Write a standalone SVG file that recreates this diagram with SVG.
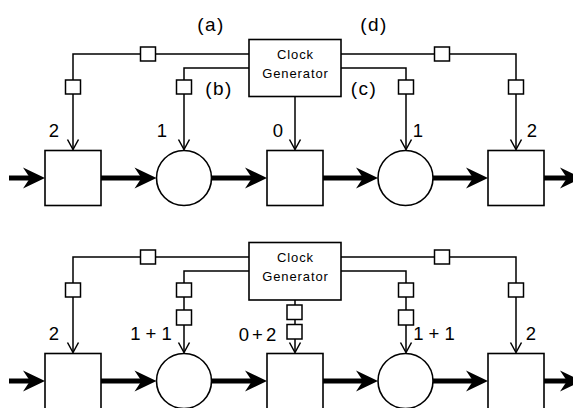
<svg xmlns="http://www.w3.org/2000/svg" width="573" height="408" viewBox="0 0 573 408">
<style>
.sh{fill:#fff;stroke:#000;stroke-width:1.6}
.ln{fill:none;stroke:#000;stroke-width:1.5}
.bx{fill:#fff;stroke:#000;stroke-width:1.5}
.th{fill:none;stroke:#000;stroke-width:5}
.lb{font-family:"Liberation Sans",Arial,sans-serif;font-size:19px;letter-spacing:1.5px;text-anchor:middle;fill:#000}
.nm{font-family:"Liberation Sans",Arial,sans-serif;font-size:18.5px;text-anchor:middle;fill:#000}
.cg{font-family:"Liberation Sans",Arial,sans-serif;font-size:13px;letter-spacing:0.9px;text-anchor:middle;fill:#000}
</style>
<defs>
<marker id="v" markerUnits="userSpaceOnUse" viewBox="-12 -7 14 14" refX="0" refY="0" markerWidth="14" markerHeight="14" orient="auto">
<path d="M-10,-5.5 L0,0 L-10,5.5" fill="none" stroke="#000" stroke-width="1.5"/>
</marker>
<path id="hd" d="M0,0 L-22,-10.5 L-15,0 L-22,10.5 Z" fill="#000"/>
</defs>

<!-- ========== TOP ROW ========== -->
<g id="connectors-top">
  <line class="th" x1="9" y1="178" x2="31" y2="178"/><use href="#hd" x="45" y="178"/>
  <line class="th" x1="101" y1="178" x2="142" y2="178"/><use href="#hd" x="156.5" y="178"/>
  <line class="th" x1="211.5" y1="178" x2="253" y2="178"/><use href="#hd" x="267" y="178"/>
  <line class="th" x1="323" y1="178" x2="364" y2="178"/><use href="#hd" x="378" y="178"/>
  <line class="th" x1="433" y1="178" x2="474" y2="178"/><use href="#hd" x="488" y="178"/>
  <line class="th" x1="544" y1="178" x2="567" y2="178"/><use href="#hd" x="582" y="178"/>
  <polyline class="ln" points="249,54 73,54 73,149.5" marker-end="url(#v)"/>
  <polyline class="ln" points="249,68 184,68 184,149.5" marker-end="url(#v)"/>
  <polyline class="ln" points="295,97 295,149.5" marker-end="url(#v)"/>
  <polyline class="ln" points="341,68 406,68 406,149.5" marker-end="url(#v)"/>
  <polyline class="ln" points="341,54 516,54 516,149.5" marker-end="url(#v)"/>
  <rect class="bx" x="140.5" y="47" width="15" height="14"/>
  <rect class="bx" x="65.5" y="80" width="15" height="14"/>
  <rect class="bx" x="176.5" y="80" width="15" height="14"/>
  <rect class="bx" x="398.5" y="80" width="15" height="14"/>
  <rect class="bx" x="434.5" y="47" width="15" height="14"/>
  <rect class="bx" x="508.5" y="80" width="15" height="14"/>
</g>
<g id="labels-top">
  <text class="lb" x="211" y="31">(a)</text>
  <text class="lb" x="219" y="95">(b)</text>
  <text class="lb" x="364" y="95">(c)</text>
  <text class="lb" x="374" y="31">(d)</text>
  <text class="nm" x="54" y="137">2</text>
  <text class="nm" x="162" y="137">1</text>
  <text class="nm" x="278" y="137">0</text>
  <text class="nm" x="418" y="137">1</text>
  <text class="nm" x="532" y="137">2</text>
</g>
<g id="clock-top">
  <rect class="sh" x="249" y="39.5" width="92" height="57"/>
  <text class="cg" x="295.5" y="59">Clock</text>
  <text class="cg" x="295.5" y="78">Generator</text>
</g>
<g id="t1-top"><rect class="sh" x="45" y="150.5" width="56" height="55"/></g>
<g id="p1-top"><circle class="sh" cx="184" cy="178" r="27.5"/></g>
<g id="t2-top"><rect class="sh" x="267" y="150.5" width="56" height="55"/></g>
<g id="p2-top"><circle class="sh" cx="405.5" cy="178" r="27.5"/></g>
<g id="t3-top"><rect class="sh" x="488" y="150.5" width="56" height="55"/></g>

<!-- ========== BOTTOM ROW ========== -->
<g id="connectors-bottom">
  <line class="th" x1="9" y1="381" x2="31" y2="381"/><use href="#hd" x="45" y="381"/>
  <line class="th" x1="101" y1="381" x2="142" y2="381"/><use href="#hd" x="156.5" y="381"/>
  <line class="th" x1="211.5" y1="381" x2="253" y2="381"/><use href="#hd" x="267" y="381"/>
  <line class="th" x1="323" y1="381" x2="364" y2="381"/><use href="#hd" x="378" y="381"/>
  <line class="th" x1="433" y1="381" x2="474" y2="381"/><use href="#hd" x="488" y="381"/>
  <line class="th" x1="544" y1="381" x2="567" y2="381"/><use href="#hd" x="582" y="381"/>
  <polyline class="ln" points="249,257 73,257 73,352.5" marker-end="url(#v)"/>
  <polyline class="ln" points="249,271 184,271 184,352.5" marker-end="url(#v)"/>
  <polyline class="ln" points="295,300 295,352.5" marker-end="url(#v)"/>
  <polyline class="ln" points="341,271 406,271 406,352.5" marker-end="url(#v)"/>
  <polyline class="ln" points="341,257 516,257 516,352.5" marker-end="url(#v)"/>
  <rect class="bx" x="140.5" y="250" width="15" height="14"/>
  <rect class="bx" x="65.5" y="283" width="15" height="14"/>
  <rect class="bx" x="176.5" y="283" width="15" height="14"/>
  <rect class="bx" x="176.5" y="310" width="15" height="15"/>
  <rect class="bx" x="287" y="305" width="15" height="14.5"/>
  <rect class="bx" x="287" y="324.5" width="15" height="14.5"/>
  <rect class="bx" x="398.5" y="283" width="15" height="14"/>
  <rect class="bx" x="398.5" y="310" width="15" height="15"/>
  <rect class="bx" x="434.5" y="250" width="15" height="14"/>
  <rect class="bx" x="508.5" y="283" width="15" height="14"/>
</g>
<g id="labels-bottom">
  <text class="nm" x="54" y="340">2</text>
  <text class="nm" x="151" y="340">1 + 1</text>
  <text class="nm" x="259" y="341" letter-spacing="3">0+2</text>
  <text class="nm" x="434" y="340">1 + 1</text>
  <text class="nm" x="531" y="340">2</text>
</g>
<g id="clock-bottom">
  <rect class="sh" x="249" y="242.5" width="92" height="57.5"/>
  <text class="cg" x="295.5" y="262">Clock</text>
  <text class="cg" x="295.5" y="281">Generator</text>
</g>
<g id="t1-bottom"><rect class="sh" x="45" y="353.5" width="56" height="58"/></g>
<g id="p1-bottom"><circle class="sh" cx="184" cy="381" r="27.5"/></g>
<g id="t2-bottom"><rect class="sh" x="267" y="353.5" width="56" height="58"/></g>
<g id="p2-bottom"><circle class="sh" cx="405.5" cy="381" r="27.5"/></g>
<g id="t3-bottom"><rect class="sh" x="488" y="353.5" width="56" height="58"/></g>
</svg>
